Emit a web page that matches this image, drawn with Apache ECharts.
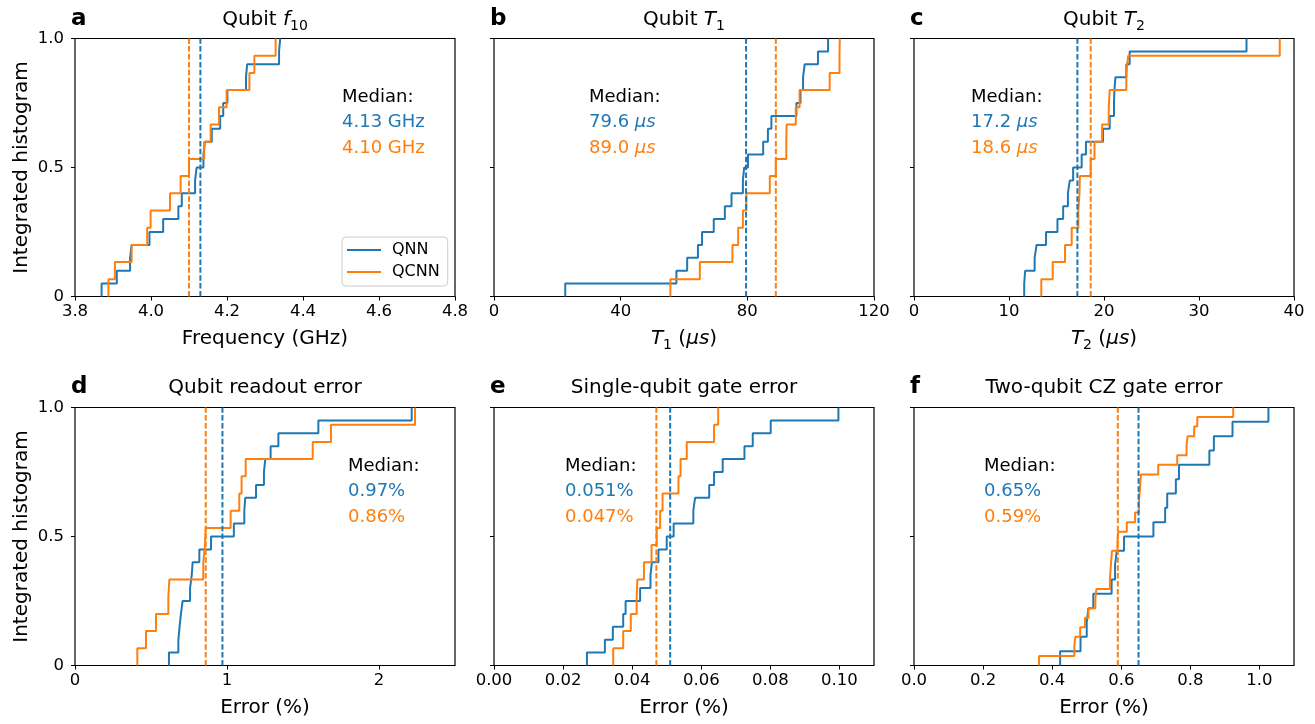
<!DOCTYPE html>
<html>
<head>
<meta charset="utf-8">
<script src="https://cdn.jsdelivr.net/npm/echarts@6/dist/echarts.min.js"></script>
<style>
  html, body { margin: 0; padding: 0; background: #fff; }
  #chart { width: 1315px; height: 724px; }
</style>
</head>
<body>
<div id="chart"></div>
<script>
// ---- data: per-qubit values for each benchmark, QNN vs QCNN ----
const seriesNames = ['QNN', 'QCNN'];

// Qubit frequency f10 (GHz)
const f10QNN = [3.870, 3.910, 3.945, 3.949, 3.996, 4.032, 4.072, 4.081, 4.116, 4.120,
                4.138, 4.142, 4.160, 4.182, 4.190, 4.201, 4.250, 4.253, 4.337, 4.340];
const f10QCNN = [3.888, 3.905, 3.949, 3.990, 3.999, 4.050, 4.078, 4.100, 4.140, 4.157,
                 4.179, 4.199, 4.259, 4.272, 4.328];
const f10Median = [4.13, 4.10];
const f10Ticks = [3.8, 4.0, 4.2, 4.4, 4.6, 4.8];

// Qubit T1 (µs)
const t1QNN = [22.5, 57.6, 61.0, 64.4, 65.7, 69.4, 72.9, 75.0, 78.6, 79.0,
               80.2, 85.0, 86.5, 87.6, 95.5, 96.8, 97.6, 98.1, 102.3, 105.5];
const t1QCNN = [55.7, 65.0, 75.3, 77.1, 78.6, 79.7, 87.1, 89.0, 92.3, 92.4,
                95.3, 96.5, 106.0, 109.1, 109.2];
const t1Median = [79.6, 89.0];
const t1Ticks = [0, 40, 80, 120];

// Qubit T2 (µs)
const t2QNN = [11.6, 11.7, 12.7, 12.9, 13.9, 15.1, 15.7, 16.2, 16.4, 16.75,
               17.65, 18.1, 19.9, 20.6, 21.05, 21.1, 21.2, 22.35, 22.7, 35.0];
const t2QCNN = [13.4, 14.6, 15.9, 16.6, 17.3, 17.42, 17.46, 18.6, 19.0, 19.8,
                20.5, 20.6, 22.35, 22.55, 38.5];
const t2Median = [17.2, 18.6];
const t2Ticks = [0, 10, 20, 30, 40];

// Qubit readout error (%)
const readoutQNN = [0.618, 0.680, 0.688, 0.697, 0.708, 0.757, 0.768, 0.774, 0.818, 0.895,
                    1.045, 1.114, 1.120, 1.191, 1.243, 1.252, 1.287, 1.338, 1.601, 2.215];
const readoutQCNN = [0.410, 0.467, 0.533, 0.614, 0.621, 0.844, 0.855, 0.860, 1.024, 1.081,
                     1.096, 1.123, 1.564, 1.684, 2.237];
const readoutMedian = [0.97, 0.86];
const readoutTicks = [0, 1, 2];

// Single-qubit gate error (%)
const sqQNN = [0.0269, 0.0321, 0.0344, 0.0374, 0.0381, 0.0423, 0.0453, 0.0457, 0.0476, 0.0500,
               0.0520, 0.0577, 0.0582, 0.0623, 0.0637, 0.0662, 0.0725, 0.0749, 0.0801, 0.0997];
const sqQCNN = [0.0345, 0.0374, 0.0396, 0.0413, 0.0415, 0.0434, 0.0456, 0.0471, 0.0481, 0.0488,
                0.0534, 0.0540, 0.0558, 0.0637, 0.0649];
const sqMedian = [0.051, 0.047];
const sqTicks = [0, 0.02, 0.04, 0.06, 0.08, 0.10];

// Two-qubit CZ gate error (%)
const czQNN = [0.423, 0.482, 0.500, 0.505, 0.519, 0.572, 0.582, 0.587, 0.608, 0.693,
               0.727, 0.733, 0.758, 0.767, 0.855, 0.868, 0.922, 1.026];
const czQCNN = [0.362, 0.464, 0.467, 0.481, 0.495, 0.505, 0.525, 0.528, 0.567, 0.569,
                0.571, 0.573, 0.589, 0.591, 0.616, 0.640, 0.651, 0.653, 0.655, 0.657,
                0.707, 0.762, 0.789, 0.792, 0.811, 0.820, 0.924];
const czMedian = [0.65, 0.59];
const czTicks = [0, 0.2, 0.4, 0.6, 0.8, 1.0];

const yTicks = [0, 0.5, 1.0];
const yTickLabels = ['0', '0.5', '1.0'];

// ---- styling / layout ----
const FONT = 'DejaVu Sans';
const COLORS = ['#1f77b4', '#ff7f0e'];
const COLS = [75, 494, 914];
const ROWS = [38.5, 407.5];
const W = 380, H = 258;
const TICK_SIZE = 16.5, LABEL_SIZE = 20, MEDIAN_SIZE = 18;

const panels = [
  { letter: 'a', qnn: f10QNN, qcnn: f10QCNN, med: f10Median, ticks: f10Ticks, min: 3.8, max: 4.8,
    fmt: v => v.toFixed(1), title: '{n|Qubit }{i|f}{s|10}', xname: '{n|Frequency (GHz)}',
    medFmt: v => '{c|' + v.toFixed(2) + ' GHz}', medX: 342 },
  { letter: 'b', qnn: t1QNN, qcnn: t1QCNN, med: t1Median, ticks: t1Ticks, min: 0, max: 120,
    fmt: v => String(v), title: '{n|Qubit }{i|T}{s|1}', xname: '{i|T}{s|1}{n| (}{i|μs}{n|)}',
    medFmt: v => '{c|' + v.toFixed(1) + ' }{ci|μs}', medX: 589 },
  { letter: 'c', qnn: t2QNN, qcnn: t2QCNN, med: t2Median, ticks: t2Ticks, min: 0, max: 40,
    fmt: v => String(v), title: '{n|Qubit }{i|T}{s|2}', xname: '{i|T}{s|2}{n| (}{i|μs}{n|)}',
    medFmt: v => '{c|' + v.toFixed(1) + ' }{ci|μs}', medX: 971 },
  { letter: 'd', qnn: readoutQNN, qcnn: readoutQCNN, med: readoutMedian, ticks: readoutTicks, min: 0, max: 2.5,
    fmt: v => String(v), title: '{n|Qubit readout error}', xname: '{n|Error (%)}',
    medFmt: v => '{c|' + v.toFixed(2) + '%}', medX: 348 },
  { letter: 'e', qnn: sqQNN, qcnn: sqQCNN, med: sqMedian, ticks: sqTicks, min: 0, max: 0.11,
    fmt: v => v.toFixed(2), title: '{n|Single-qubit gate error}', xname: '{n|Error (%)}',
    medFmt: v => '{c|' + v.toFixed(3) + '%}', medX: 565 },
  { letter: 'f', qnn: czQNN, qcnn: czQCNN, med: czMedian, ticks: czTicks, min: 0, max: 1.1,
    fmt: v => v.toFixed(1), title: '{n|Two-qubit CZ gate error}', xname: '{n|Error (%)}',
    medFmt: v => '{c|' + v.toFixed(2) + '%}', medX: 984 }
];

// cumulative (integrated) histogram points for a step line
function cumulative(vals) {
  const s = vals.slice().sort((a, b) => a - b);
  const n = s.length;
  const pts = [[s[0], 0]];
  s.forEach((v, i) => pts.push([v, (i + 1) / n]));
  return pts;
}

function richSet(size, color) {
  return {
    n: { fontFamily: FONT, fontSize: size, lineHeight: size + 6, fill: color, color: color },
    i: { fontFamily: FONT, fontSize: size, fontStyle: 'italic', lineHeight: size + 6, fill: color, color: color },
    s: { fontFamily: FONT, fontSize: Math.round(size * 0.7), lineHeight: Math.round(size * 0.78),
         verticalAlign: 'bottom', fill: color, color: color }
  };
}

const grids = [], xAxes = [], yAxes = [], series = [], graphics = [];

panels.forEach((p, k) => {
  const col = k % 3, row = Math.floor(k / 3);
  const left = COLS[col], top = ROWS[row];
  grids.push({ left: left, top: top, width: W, height: H, show: true,
               borderColor: '#000', borderWidth: 1.2, backgroundColor: 'transparent' });
  xAxes.push({
    type: 'value', gridIndex: k, min: p.min, max: p.max,
    splitLine: { show: false }, axisLine: { show: false },
    axisTick: { show: true, length: 4, lineStyle: { color: '#000', width: 1 }, customValues: p.ticks },
    axisLabel: { customValues: p.ticks, formatter: p.fmt, fontFamily: FONT, fontSize: TICK_SIZE,
                 color: '#000', margin: 7 }
  });
  yAxes.push({
    type: 'value', gridIndex: k, min: 0, max: 1,
    splitLine: { show: false }, axisLine: { show: false },
    axisTick: { show: true, length: 4, lineStyle: { color: '#000', width: 1 }, customValues: yTicks },
    axisLabel: { show: col === 0, customValues: yTicks,
                 formatter: v => yTickLabels[yTicks.indexOf(v)] ?? '',
                 fontFamily: FONT, fontSize: TICK_SIZE, color: '#000', margin: 11 }
  });
  [p.qnn, p.qcnn].forEach((vals, j) => {
    series.push({
      type: 'line', name: seriesNames[j], xAxisIndex: k, yAxisIndex: k,
      data: cumulative(vals), step: 'end', symbol: 'none', color: COLORS[j],
      lineStyle: { width: 2, color: COLORS[j] }, z: 3 + j, silent: true
    });
  });
  // dashed median markers
  p.med.forEach((m, j) => {
    series.push({
      type: 'line', name: seriesNames[j] + ' median', xAxisIndex: k, yAxisIndex: k,
      data: [[m, 0], [m, 1]], symbol: 'none', color: COLORS[j], silent: true, z: 5,
      lineStyle: { type: [5.5, 2.4], width: 2, color: COLORS[j] }
    });
  });

  const cx = left + W / 2;
  const titleY = row === 0 ? 20 : 388;
  const xnameY = top + H + 42.5;
  // panel title
  graphics.push({ type: 'text', x: cx, y: titleY, silent: true,
    style: { text: p.title, rich: richSet(LABEL_SIZE, '#000'), align: 'center', verticalAlign: 'middle',
             textAlign: 'center', textVerticalAlign: 'middle' } });
  // x-axis name
  graphics.push({ type: 'text', x: cx, y: xnameY, silent: true,
    style: { text: p.xname, rich: richSet(LABEL_SIZE, '#000'), align: 'center', verticalAlign: 'middle',
             textAlign: 'center', textVerticalAlign: 'middle' } });
  // panel letter
  graphics.push({ type: 'text', x: left - 4, y: titleY - 1, silent: true,
    style: { text: p.letter, fill: '#000', font: 'bold 23px "' + FONT + '"', align: 'left',
             verticalAlign: 'middle', textAlign: 'left', textVerticalAlign: 'middle' } });
  // median annotation
  const LH = 25.5;
  const medRich = {
    k: { fontFamily: FONT, fontSize: MEDIAN_SIZE, lineHeight: LH, fill: '#000', color: '#000' }
  };
  const lines = ['{k|Median:}'];
  p.med.forEach((m, j) => {
    const key = j === 0 ? 'b' : 'o';
    medRich[key] = { fontFamily: FONT, fontSize: MEDIAN_SIZE, lineHeight: LH, fill: COLORS[j], color: COLORS[j] };
    medRich[key + 'i'] = { fontFamily: FONT, fontSize: MEDIAN_SIZE, fontStyle: 'italic', lineHeight: LH,
                           fill: COLORS[j], color: COLORS[j] };
    lines.push(p.medFmt(m).replace('{c|', '{' + key + '|').replace('{ci|', '{' + key + 'i|'));
  });
  graphics.push({ type: 'text', x: p.medX, y: (row === 0 ? 97 : 466) - LH / 2, silent: true,
    style: { text: lines.join('\n'), rich: medRich, align: 'left', verticalAlign: 'top',
             textAlign: 'left', textVerticalAlign: 'top' } });
});

// shared y-axis names
ROWS.forEach(top => {
  graphics.push({ type: 'text', x: 21.5, y: top + H / 2, rotation: Math.PI / 2, silent: true,
    style: { text: 'Integrated histogram', fill: '#000', font: LABEL_SIZE + 'px "' + FONT + '"',
             align: 'center', verticalAlign: 'middle', textAlign: 'center', textVerticalAlign: 'middle' } });
});

const chart = echarts.init(document.getElementById('chart'), null, { renderer: 'canvas' });
chart.setOption({
  animation: false,
  backgroundColor: '#fff',
  grid: grids,
  xAxis: xAxes,
  yAxis: yAxes,
  series: series,
  legend: {
    data: seriesNames, left: 342, top: 237, orient: 'vertical', icon: 'rect',
    itemWidth: 34, itemHeight: 2, itemGap: 6, selectedMode: false,
    textStyle: { fontFamily: FONT, fontSize: 16, color: '#000', padding: [0, 0, 0, 6] },
    backgroundColor: '#fff', borderColor: '#cccccc', borderWidth: 1, borderRadius: 4,
    padding: [5, 8, 6, 5]
  },
  graphic: graphics
});
</script>
</body>
</html>
